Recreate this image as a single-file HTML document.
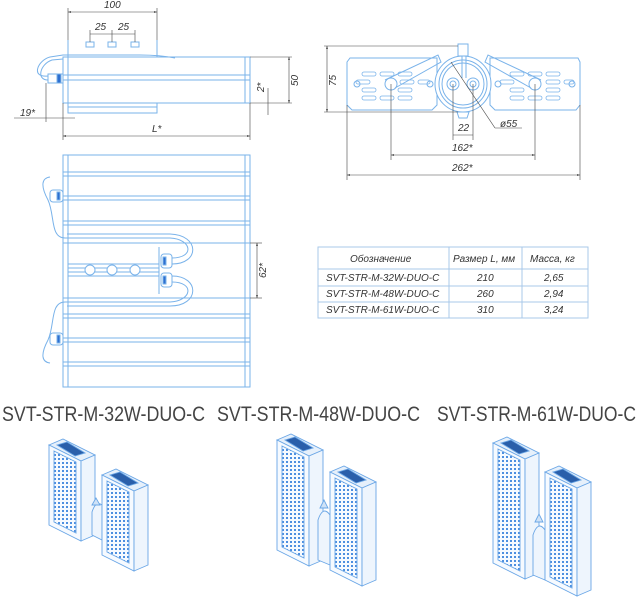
<!DOCTYPE html>
<html><head><meta charset="utf-8"><style>
html,body{margin:0;padding:0;background:#fff}
svg{display:block}
text{font-family:"Liberation Sans",sans-serif;font-style:italic;fill:#333}
</style></head><body>
<svg width="637" height="600" viewBox="0 0 637 600" xmlns="http://www.w3.org/2000/svg">
<defs>
<pattern id="dots" width="4" height="4" patternUnits="userSpaceOnUse"><rect x="1" y="1" width="2" height="2" fill="#4d8fe0"/></pattern>
<marker id="ar" viewBox="0 0 10 10" refX="10" refY="5" markerWidth="8" markerHeight="5" orient="auto-start-reverse"><path d="M0,2 L10,5 L0,8z" fill="#333"/></marker>
</defs>
<g fill="none" stroke="#7ab3ea" stroke-width="1">
<rect x="63" y="57" width="187" height="46"/>
<line x1="68" y1="57" x2="68" y2="103"/><line x1="245" y1="57" x2="245" y2="103"/>
<rect x="63" y="75" width="187" height="5"/>
<line x1="68" y1="40" x2="68" y2="57"/><line x1="157" y1="40" x2="157" y2="57"/>
<rect x="86" y="42" width="8" height="5"/><rect x="108" y="42" width="8" height="5"/><rect x="131" y="42" width="8" height="5"/>
<rect x="68" y="103" width="89" height="10"/><line x1="68" y1="107" x2="157" y2="107"/>
<line x1="63" y1="103" x2="78" y2="103"/><line x1="235" y1="103" x2="250" y2="103"/>
<rect x="48" y="74" width="15" height="9"/><rect x="57" y="74" width="4" height="9" fill="#2d6fd0"/>
<path d="M48,76 C30,78 38,60 50,57 L63,55 L140,55 Q160,55 175,58"/>
<path d="M48,80 C36,80 40,64 52,60 L63,59"/>
<rect x="63" y="155" width="187" height="232"/>
<line x1="68" y1="155" x2="68" y2="387"/><line x1="245" y1="155" x2="245" y2="387"/>
<g>
<line x1="63" y1="172" x2="250" y2="172"/><line x1="63" y1="176" x2="250" y2="176"/>
<line x1="63" y1="196" x2="250" y2="196"/><line x1="63" y1="200" x2="250" y2="200"/>
<line x1="63" y1="221" x2="250" y2="221"/><line x1="63" y1="225" x2="250" y2="225"/>
<line x1="63" y1="243" x2="250" y2="243"/><line x1="63" y1="298" x2="250" y2="298"/>
<line x1="63" y1="314" x2="250" y2="314"/><line x1="63" y1="318" x2="250" y2="318"/>
<line x1="63" y1="338" x2="250" y2="338"/><line x1="63" y1="342" x2="250" y2="342"/>
<line x1="63" y1="362" x2="250" y2="362"/><line x1="63" y1="366" x2="250" y2="366"/>
</g>
<rect x="68" y="264" width="91" height="12"/><line x1="68" y1="268" x2="159" y2="268"/><line x1="68" y1="272" x2="159" y2="272"/>
<circle cx="90" cy="270" r="5" fill="#fff"/><circle cx="112" cy="270" r="5" fill="#fff"/><circle cx="135" cy="270" r="5" fill="#fff"/>
<line x1="159" y1="247" x2="159" y2="294"/>
<rect x="161" y="254" width="11" height="14" rx="3" fill="#fff"/><rect x="163" y="257" width="3" height="8" fill="#2d6fd0"/>
<rect x="161" y="273" width="11" height="14" rx="3" fill="#fff"/><rect x="163" y="276" width="3" height="8" fill="#2d6fd0"/>
<path d="M172,258 C195,258 192,239 170,238 L65,238 C50,238 55,215 48,200 C40,185 42,178 50,177"/>
<path d="M172,264 C200,264 200,235 170,234 L67,234"/>
<path d="M172,282 C195,282 192,301 170,302 L65,302 C50,302 55,325 48,340 C40,355 42,362 50,363"/>
<path d="M172,276 C200,276 200,306 170,306 L67,306"/>
<rect x="50" y="190" width="13" height="12" rx="3" fill="#fff"/><rect x="57" y="192" width="3" height="8" fill="#2d6fd0"/>
<rect x="50" y="333" width="13" height="12" rx="3" fill="#fff"/><rect x="57" y="335" width="3" height="8" fill="#2d6fd0"/>
<path d="M350,58 L437,58 L437,105 L432,110 L352,110 L347,105 L347,62z"/>
<path d="M490,58 L578,58 L580,62 L580,105 L576,110 L495,110 L490,105z"/>
<g stroke-width="0.8">
<rect x="362" y="72" width="14" height="4" rx="2"/><rect x="380" y="72" width="14" height="4" rx="2"/><rect x="398" y="72" width="14" height="4" rx="2"/>
<rect x="356" y="80" width="14" height="4" rx="2"/><rect x="400" y="80" width="14" height="4" rx="2"/><rect x="418" y="80" width="12" height="4" rx="2"/>
<rect x="362" y="88" width="14" height="4" rx="2"/><rect x="398" y="88" width="14" height="4" rx="2"/>
<rect x="362" y="96" width="14" height="4" rx="2"/><rect x="380" y="96" width="14" height="4" rx="2"/><rect x="398" y="96" width="14" height="4" rx="2"/>
<rect x="510" y="72" width="14" height="4" rx="2"/><rect x="528" y="72" width="14" height="4" rx="2"/><rect x="546" y="72" width="14" height="4" rx="2"/>
<rect x="500" y="80" width="14" height="4" rx="2"/><rect x="546" y="80" width="14" height="4" rx="2"/><rect x="564" y="80" width="10" height="4" rx="2"/>
<rect x="510" y="88" width="14" height="4" rx="2"/><rect x="546" y="88" width="14" height="4" rx="2"/>
<rect x="510" y="96" width="14" height="4" rx="2"/><rect x="528" y="96" width="14" height="4" rx="2"/><rect x="546" y="96" width="14" height="4" rx="2"/>
</g>
<path d="M385,80 L438,55 L441,62 L395,88"/><path d="M541,80 L488,55 L485,62 L531,88"/>
<circle cx="391" cy="84" r="6"/><circle cx="535" cy="84" r="6"/>
<circle cx="357" cy="84" r="3"/><circle cx="430" cy="84" r="3"/><circle cx="498" cy="84" r="3"/><circle cx="572" cy="84" r="3"/>
<circle cx="463" cy="84" r="28" fill="#fff"/><circle cx="463" cy="84" r="24"/><circle cx="463" cy="84" r="21"/>
<circle cx="453" cy="84" r="6"/><circle cx="473" cy="84" r="6"/><circle cx="453" cy="84" r="3"/><circle cx="473" cy="84" r="3"/>
<rect x="458" y="44" width="10" height="12"/><line x1="462" y1="56" x2="462" y2="78"/><line x1="466" y1="56" x2="466" y2="78"/>
<path d="M457,112 L469,112 L467,118 L459,118z"/>
<rect x="318" y="247" width="270" height="71" stroke="#a9c9ea"/>
<line x1="318" y1="269" x2="588" y2="269" stroke="#a9c9ea"/><line x1="318" y1="286" x2="588" y2="286" stroke="#a9c9ea"/><line x1="318" y1="302" x2="588" y2="302" stroke="#a9c9ea"/>
<line x1="449" y1="247" x2="449" y2="318" stroke="#a9c9ea"/><line x1="522" y1="247" x2="522" y2="318" stroke="#a9c9ea"/>
</g>
<g stroke="#444" stroke-width="0.6" fill="none">
<line x1="68" y1="8" x2="68" y2="40"/><line x1="157" y1="8" x2="157" y2="40"/>
<line x1="68" y1="12" x2="157" y2="12" marker-start="url(#ar)" marker-end="url(#ar)"/>
<line x1="90" y1="30" x2="90" y2="42"/><line x1="112" y1="30" x2="112" y2="42"/><line x1="135" y1="30" x2="135" y2="42"/>
<line x1="90" y1="34" x2="135" y2="34"/>
<line x1="250" y1="57" x2="292" y2="57"/><line x1="250" y1="103" x2="292" y2="103"/>
<line x1="289" y1="57" x2="289" y2="103" marker-start="url(#ar)" marker-end="url(#ar)"/>
<line x1="268" y1="88" x2="268" y2="115"/>
<line x1="63" y1="103" x2="63" y2="140"/><line x1="250" y1="103" x2="250" y2="140"/>
<line x1="63" y1="136" x2="250" y2="136" marker-start="url(#ar)" marker-end="url(#ar)"/>
<line x1="46" y1="83" x2="46" y2="122"/><line x1="14" y1="118" x2="75" y2="118"/>
<line x1="250" y1="243" x2="262" y2="243"/><line x1="250" y1="298" x2="262" y2="298"/>
<line x1="257" y1="243" x2="257" y2="298" marker-start="url(#ar)" marker-end="url(#ar)"/>
<line x1="324" y1="46" x2="458" y2="46"/><line x1="324" y1="112" x2="458" y2="112"/>
<line x1="327" y1="46" x2="327" y2="112" marker-start="url(#ar)" marker-end="url(#ar)"/>
<line x1="453" y1="84" x2="453" y2="140"/><line x1="473" y1="84" x2="473" y2="140"/>
<line x1="453" y1="135" x2="473" y2="135"/>
<line x1="391" y1="84" x2="391" y2="160"/><line x1="535" y1="84" x2="535" y2="160"/>
<line x1="391" y1="155" x2="535" y2="155" marker-start="url(#ar)" marker-end="url(#ar)"/>
<line x1="347" y1="105" x2="347" y2="180"/><line x1="580" y1="105" x2="580" y2="180"/>
<line x1="347" y1="175" x2="580" y2="175" marker-start="url(#ar)" marker-end="url(#ar)"/>
<line x1="451" y1="62" x2="495" y2="128"/><line x1="495" y1="128" x2="522" y2="128"/>
</g>
<g font-size="10">
<text x="104" y="8">100</text><text x="95" y="30">25</text><text x="118" y="30">25</text>
<text x="20" y="116">19*</text><text x="152" y="132">L*</text>
<text x="458" y="131">22</text><text x="452" y="151">162*</text><text x="452" y="171">262*</text><text x="500" y="127">ø55</text>
<text transform="translate(298,86) rotate(-90)">50</text>
<text transform="translate(264,92) rotate(-90)">2*</text>
<text transform="translate(336,86) rotate(-90)">75</text>
<text transform="translate(266,278) rotate(-90)">62*</text>
</g>
<g font-size="10">
<text x="350" y="262">Обозначение</text><text x="453" y="262">Размер L, мм</text><text x="530" y="262">Масса, кг</text>
<text x="326" y="281">SVT-STR-M-32W-DUO-C</text><text x="477" y="281">210</text><text x="544" y="281">2,65</text>
<text x="326" y="297">SVT-STR-M-48W-DUO-C</text><text x="477" y="297">260</text><text x="544" y="297">2,94</text>
<text x="326" y="313">SVT-STR-M-61W-DUO-C</text><text x="477" y="313">310</text><text x="544" y="313">3,24</text>
</g>
<g font-size="21" fill="#444">
<text x="2" y="421" textLength="203" lengthAdjust="spacingAndGlyphs" style="font-style:normal;fill:#444">SVT-STR-M-32W-DUO-C</text>
<text x="217" y="421" textLength="203" lengthAdjust="spacingAndGlyphs" style="font-style:normal;fill:#444">SVT-STR-M-48W-DUO-C</text>
<text x="437" y="421" textLength="199" lengthAdjust="spacingAndGlyphs" style="font-style:normal;fill:#444">SVT-STR-M-61W-DUO-C</text>
</g>
<g stroke="#6aa6e6" stroke-width="0.9">
<g transform="translate(49,445)">
<path d="M0,0 L14,-6 L46,10 L32,16z" fill="#e6f0fb"/><path d="M8,0 L18,-3 L36,8 L26,11z" fill="#2a5faa"/>
<path d="M0,0 L32,16 L32,96 L0,80z" fill="#f6faff"/><path d="M5,6 L27,17 L27,88 L5,77z" fill="url(#dots)"/>
<path d="M32,16 L46,10 L46,90 L32,96z" fill="#eef5fd"/>
</g>
<path d="M92,512 L92,535 L102,540 L102,505 Q96,500 92,512z" fill="#eef5fd"/><path d="M92,505 L96,498 L100,505z" fill="#cfe2f7"/>
<g transform="translate(102,475)">
<path d="M0,0 L14,-6 L46,10 L32,16z" fill="#e6f0fb"/><path d="M8,0 L18,-3 L36,8 L26,11z" fill="#2a5faa"/>
<path d="M0,0 L32,16 L32,96 L0,80z" fill="#f6faff"/><path d="M5,6 L27,17 L27,88 L5,77z" fill="url(#dots)"/>
<path d="M32,16 L46,10 L46,90 L32,96z" fill="#eef5fd"/>
</g>
<g transform="translate(277,440)">
<path d="M0,0 L14,-6 L46,10 L32,16z" fill="#e6f0fb"/><path d="M8,0 L18,-3 L36,8 L26,11z" fill="#2a5faa"/>
<path d="M0,0 L32,16 L32,126 L0,110z" fill="#f6faff"/><path d="M5,6 L27,17 L27,118 L5,107z" fill="url(#dots)"/>
<path d="M32,16 L46,10 L46,120 L32,126z" fill="#eef5fd"/>
</g>
<path d="M318,520 L318,560 L330,565 L330,515 Q323,505 318,520z" fill="#eef5fd"/><path d="M320,508 L324,500 L328,508z" fill="#cfe2f7"/>
<g transform="translate(330,472)">
<path d="M0,0 L14,-6 L46,10 L32,16z" fill="#e6f0fb"/><path d="M8,0 L18,-3 L36,8 L26,11z" fill="#2a5faa"/>
<path d="M0,0 L32,16 L32,114 L0,98z" fill="#f6faff"/><path d="M5,6 L27,17 L27,106 L5,95z" fill="url(#dots)"/>
<path d="M32,16 L46,10 L46,108 L32,114z" fill="#eef5fd"/>
</g>
<g transform="translate(493,443)">
<path d="M0,0 L14,-6 L46,10 L32,16z" fill="#e6f0fb"/><path d="M8,0 L18,-3 L36,8 L26,11z" fill="#2a5faa"/>
<path d="M0,0 L32,16 L32,136 L0,120z" fill="#f6faff"/><path d="M5,6 L27,17 L27,128 L5,117z" fill="url(#dots)"/>
<path d="M32,16 L46,10 L46,130 L32,136z" fill="#eef5fd"/>
</g>
<path d="M533,535 L533,575 L545,580 L545,530 Q538,520 533,535z" fill="#eef5fd"/><path d="M535,522 L539,514 L543,522z" fill="#cfe2f7"/>
<g transform="translate(545,472)">
<path d="M0,0 L14,-6 L46,10 L32,16z" fill="#e6f0fb"/><path d="M8,0 L18,-3 L36,8 L26,11z" fill="#2a5faa"/>
<path d="M0,0 L32,16 L32,124 L0,108z" fill="#f6faff"/><path d="M5,6 L27,17 L27,116 L5,105z" fill="url(#dots)"/>
<path d="M32,16 L46,10 L46,118 L32,124z" fill="#eef5fd"/>
</g>
</g>
</svg>
</body></html>
